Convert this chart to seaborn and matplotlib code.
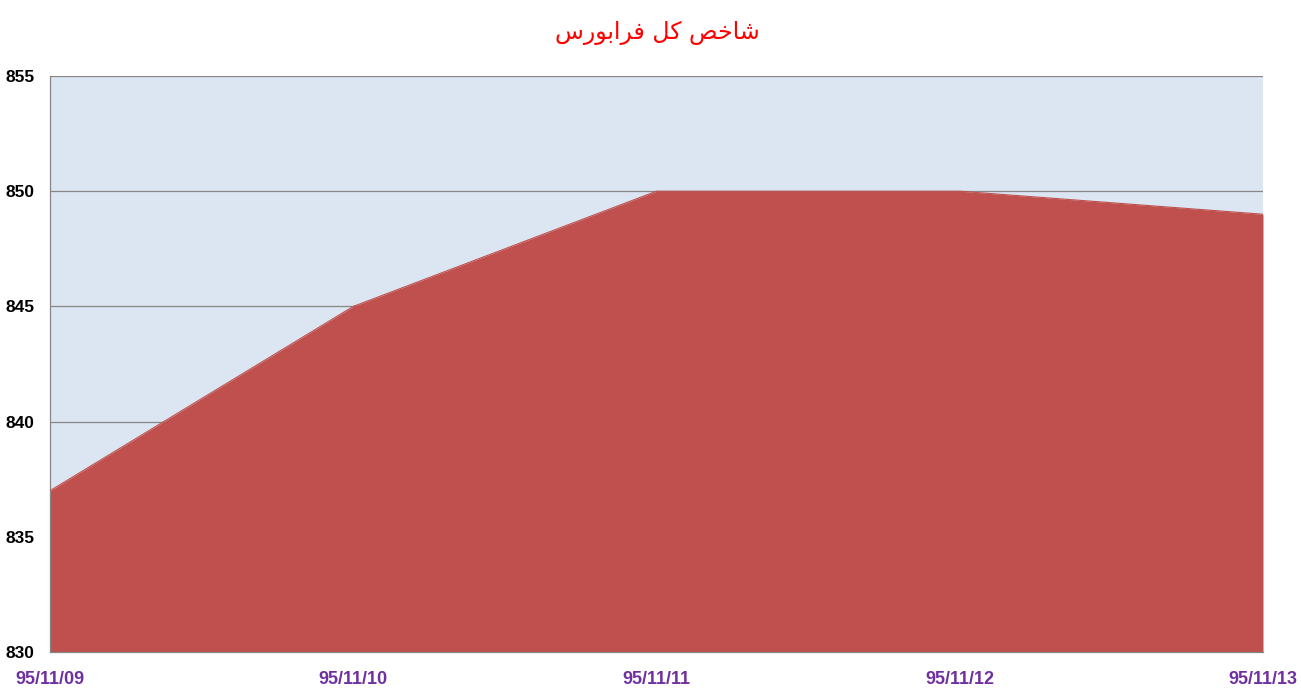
import matplotlib
matplotlib.use("Agg")
import matplotlib.pyplot as plt
import seaborn as sns
import numpy as np

# ---- data ----
dates = ["95/11/09", "95/11/10", "95/11/11", "95/11/12", "95/11/13"]
values = [837, 845, 850, 850, 849]
y_ticks = [830, 835, 840, 845, 850, 855]
title_text = "شاخص کل فرابورس"

# ---- simple Arabic/Persian shaping (matplotlib has no text shaping) ----
FORMS = {  # isolated, final, initial, medial
    "ش": ("\uFEB5", "\uFEB6", "\uFEB7", "\uFEB8"),
    "ا": ("\uFE8D", "\uFE8E", None, None),
    "خ": ("\uFEA5", "\uFEA6", "\uFEA7", "\uFEA8"),
    "ص": ("\uFEB9", "\uFEBA", "\uFEBB", "\uFEBC"),
    "ک": ("\uFB8E", "\uFB8F", "\uFB90", "\uFB91"),
    "ل": ("\uFEDD", "\uFEDE", "\uFEDF", "\uFEE0"),
    "ف": ("\uFED1", "\uFED2", "\uFED3", "\uFED4"),
    "ر": ("\uFEAD", "\uFEAE", None, None),
    "ب": ("\uFE8F", "\uFE90", "\uFE91", "\uFE92"),
    "و": ("\uFEED", "\uFEEE", None, None),
    "س": ("\uFEB1", "\uFEB2", "\uFEB3", "\uFEB4"),
}


def shape(text):
    out = []
    n = len(text)
    for i, ch in enumerate(text):
        if ch not in FORMS:
            out.append(ch)
            continue
        f = FORMS[ch]
        prev = text[i - 1] if i > 0 else None
        nxt = text[i + 1] if i < n - 1 else None
        join_prev = prev in FORMS and FORMS[prev][2] is not None
        join_next = nxt in FORMS and f[2] is not None
        if join_prev and join_next:
            out.append(f[3])
        elif join_prev:
            out.append(f[1])
        elif join_next:
            out.append(f[2])
        else:
            out.append(f[0])
    return "".join(out)[::-1]


sns.set_theme(style="white")
plt.rcParams["font.family"] = ["Liberation Sans", "DejaVu Sans"]

fig = plt.figure(figsize=(13.01, 6.91), dpi=100)
ax = fig.add_axes([50 / 1301, 39 / 691, 1213 / 1301, 576 / 691])
ax.set_facecolor("#DCE6F2")

x = np.arange(len(dates))
for yv in y_ticks:
    ax.axhline(yv, color="#868686", linewidth=0.9, zorder=1)

sns.lineplot(x=x, y=values, ax=ax, color="#C0504D", linewidth=0.8, zorder=3)
ax.fill_between(x, values, 830, color="#C0504D", linewidth=0, zorder=2)

ax.set_xlim(0, len(dates) - 1)
ax.set_ylim(830, 855)
ax.set_xticks(x)
ax.set_xticklabels(dates)
ax.set_yticks(y_ticks)
ax.set_yticklabels([str(v) for v in y_ticks])

for s in ["top", "right"]:
    ax.spines[s].set_visible(False)
for s in ["left", "bottom"]:
    ax.spines[s].set_color("#868686")
    ax.spines[s].set_linewidth(0.9)

ax.tick_params(axis="both", which="major", direction="out", length=5,
               width=0.9, color="#868686", pad=6)
ax.tick_params(axis="x", pad=9)
for lbl in ax.get_yticklabels():
    lbl.set_fontweight("bold")
    lbl.set_fontsize(12.5)
    lbl.set_color("black")
for lbl in ax.get_xticklabels():
    lbl.set_fontweight("bold")
    lbl.set_fontsize(13)
    lbl.set_color("#7030A0")

fig.text(657 / 1301, 1 - 33 / 691, shape(title_text), ha="center", va="center",
         color="#FF0000", fontsize=17, family=["DejaVu Sans"])

fig.savefig("out.png", dpi=100)
